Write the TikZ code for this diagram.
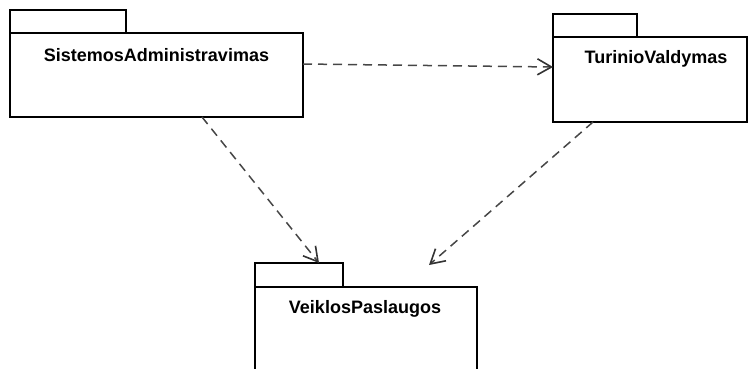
\documentclass[tikz,border=0pt]{standalone}
\usepackage{fontspec}
\setmainfont{Liberation Sans}
\usetikzlibrary{arrows.meta}
\begin{document}
\begin{tikzpicture}[x=1pt,y=-1pt,
  pkgbox/.style={draw=black, line width=2.2pt, fill=white, inner sep=0pt, outer sep=0pt, anchor=north west},
  pkgname/.style={font=\fontsize{18}{20}\selectfont\bfseries, inner sep=0pt},
  dep/.style={draw=gray!55!black, line width=1.5pt, dash pattern=on 9pt off 6pt,
    -{Straight Barb[length=14pt,width=16pt,line width=1.6pt,color=black!80]}}
]
\useasboundingbox (0,0) rectangle (749,368);
% SistemosAdministravimas
\node[pkgbox, minimum width=116pt, minimum height=23pt] (satab) at (10,10) {};
\node[pkgbox, minimum width=293pt, minimum height=84pt] (sa) at (10,33) {};
\node[pkgname] (satxt) at ([yshift=-22pt]sa.north) {SistemosAdministravimas};
% TurinioValdymas
\node[pkgbox, minimum width=84pt, minimum height=23pt] (tvtab) at (553,14) {};
\node[pkgbox, minimum width=194pt, minimum height=85pt] (tv) at (553,37) {};
\node[pkgname] (tvtxt) at ([xshift=6pt,yshift=-22pt]tv.north) {TurinioValdymas};
% VeiklosPaslaugos
\node[pkgbox, minimum width=88pt, minimum height=24pt] (vptab) at (255,263) {};
\node[pkgbox, minimum width=222pt, minimum height=90pt] (vp) at (255,287) {};
\node[pkgname] (vptxt) at ([xshift=-1pt,yshift=-22pt]vp.north) {VeiklosPaslaugos};
% dependencies
\coordinate (e3) at ([xshift=63pt,yshift=22pt]vp.north);
\draw[dep] ([yshift=11pt]sa.east) -- ([yshift=12.5pt]tv.west);
\draw[dep] ([xshift=45.5pt]sa.south) -- ([xshift=20pt]vptab.north);
\draw[dep] ([xshift=-57pt]tv.south) -- (e3);
\end{tikzpicture}
\end{document}
